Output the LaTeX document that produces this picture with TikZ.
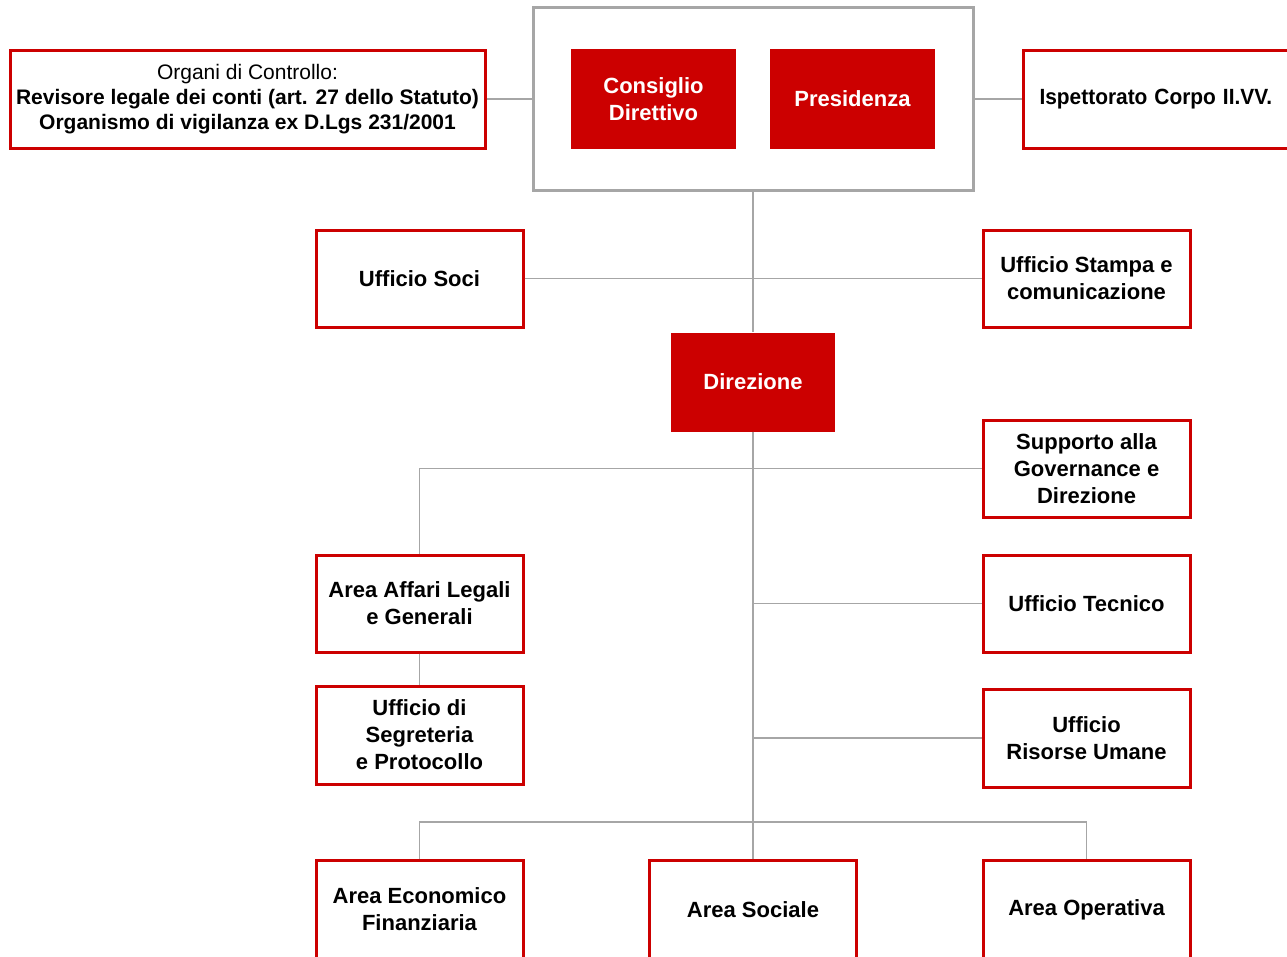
\documentclass[tikz,border=0pt]{standalone}
\usepackage{fontspec}
\setmainfont{Liberation Sans}
\definecolor{cri}{HTML}{CC0000}
\definecolor{lgrey}{HTML}{A6A6A6}
\begin{document}
\begin{tikzpicture}[x=1pt,y=-1pt,
  redbox/.style={draw=cri,line width=3pt,fill=white,inner sep=0pt,align=center,
    font=\fontsize{22}{27}\selectfont\bfseries,text=black,
    minimum width=207pt,minimum height=97pt},
  redfill/.style={fill=cri,draw=none,inner sep=0pt,align=center,
    font=\fontsize{22}{27}\selectfont\bfseries,text=white,
    minimum width=165pt,minimum height=100pt},
  greybox/.style={draw=lgrey,line width=3pt,fill=white,inner sep=0pt,
    minimum width=440pt,minimum height=183pt},
  conn/.style={draw=lgrey,line width=1.6pt}]
\useasboundingbox (0,0) rectangle (1287,956);
\clip (0,0) rectangle (1287,956);
\fill[white] (0,0) rectangle (1287,956);

\node[greybox] (top) at (753,98.5) {};
\node[redfill] (cons) at (653.5,99) {Consiglio\\Direttivo};
\node[redfill] (pres) at (852.5,99) {Presidenza};
\node[redbox,minimum width=475pt,minimum height=98pt,
  font=\fontsize{21}{25}\selectfont] (org) at (247.5,99)
  {Organi di Controllo:\\\textbf{Revisore legale dei conti (art. 27 dello Statuto)}\\\textbf{Organismo di vigilanza ex D.Lgs 231/2001}};
\node[redbox,minimum width=280pt,minimum height=98pt,anchor=west,
  text width=280pt,align=left] (isp) at (1022,99)
  {\hspace*{16pt}\scalebox{0.95}[1]{Ispettorato Corpo II.VV.}};

\node[redbox] (soci) at (419.5,278.5) {Ufficio Soci};
\node[redbox] (stampa) at (1086.5,278.5) {Ufficio Stampa e\\comunicazione};
\node[redfill,minimum width=164pt,minimum height=99pt] (dir) at (753,382) {Direzione};
\node[redbox] (supp) at (1086.5,468.5) {Supporto alla\\Governance e\\Direzione};
\node[redbox] (affari) at (419.5,603.5) {Area Affari Legali\\e Generali};
\node[redbox,minimum height=98pt] (segr) at (419.5,735) {Ufficio di\\Segreteria\\e Protocollo};
\node[redbox] (tecn) at (1086.5,603.5) {Ufficio Tecnico};
\node[redbox,minimum height=98pt] (risu) at (1086.5,738) {Ufficio\\Risorse Umane};
\node[redbox,minimum height=98pt] (econ) at (419.5,909.5) {Area Economico\\Finanziaria};
\node[redbox,minimum height=98pt] (soc) at (753,909.5) {Area Sociale};
\node[redbox,minimum height=98pt] (oper) at (1086.5,909.5) {Area Operativa};
\coordinate (bus) at (753,822);

\draw[conn] (org.east) -- (org.east -| top.west);
\draw[conn] (isp.west) -- (isp.west -| top.east);
\draw[conn] (top.south) -- (dir.north);
\draw[conn] (soci.east) -- (stampa.west);
\draw[conn] (dir.south) -- (soc.north);
\draw[conn] (supp.west) -- (affari.north |- supp.west) -- (affari.north);
\draw[conn] (affari.south) -- (segr.north);
\draw[conn] (tecn.west) -- (dir.south |- tecn.west);
\draw[conn] (risu.west) -- (dir.south |- risu.west);
\draw[conn] (econ.north) -- (econ.north |- bus) -- (oper.north |- bus) -- (oper.north);
\end{tikzpicture}
\end{document}
